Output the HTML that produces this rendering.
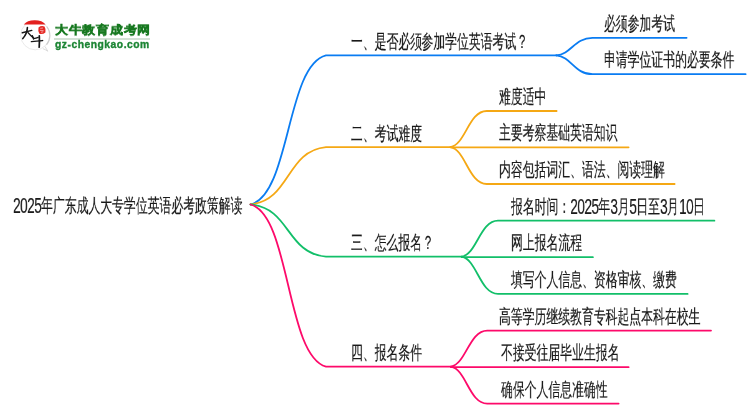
<!DOCTYPE html>
<html><head><meta charset="utf-8"><style>
html,body{margin:0;padding:0;background:#fff;width:750px;height:410px;overflow:hidden;position:relative}
body{font-family:"Liberation Sans",sans-serif}
.t{position:absolute;font-size:19px;line-height:19px;white-space:nowrap;color:#1a1a1a;-webkit-text-stroke:0.2px #1a1a1a;transform:scaleX(0.6235);transform-origin:0 0;will-change:transform}
.d{font-size:22px;letter-spacing:-0.9px;line-height:0;position:relative;top:0.6px}
svg.lines{position:absolute;left:0;top:0}
svg.lines path{fill:none;stroke-width:1.8;stroke-linecap:round}
</style></head><body>
<svg class="lines" width="750" height="410" viewBox="0 0 750 410">
<path d="M250.5 204.5 C290.51 194.51 285.99 65.39 326 55.4 L556.3 55.4" stroke="#0a7cf2"/>
<path d="M556.3 55.4 C571.50 54.08 574.40 37.80 592.5 37.8 L686.6 37.8" stroke="#0a7cf2"/>
<path d="M556.3 55.4 C571.50 56.81 574.40 74.20 592.5 74.2 L745.6 74.2" stroke="#0a7cf2"/>
<path d="M250.5 204.5 C290.51 200.65 285.99 150.95 326 147.1 L450.5 147.1" stroke="#f5a814"/>
<path d="M450.5 147.1 C465.70 144.39 468.60 111.00 486.7 111 L556.6 111" stroke="#f5a814"/>
<path d="M450.5 147.3 L628.6 147.3" stroke="#f5a814"/>
<path d="M450.5 147.1 C465.70 149.87 468.60 184.00 486.7 184 L674.6 184" stroke="#f5a814"/>
<path d="M250.5 204.5 C290.51 208.00 285.99 253.20 326 256.7 L461.8 256.7" stroke="#12bf69"/>
<path d="M461.8 256.7 C477.00 254.00 479.90 220.70 498.0 220.7 L714.4 220.7" stroke="#12bf69"/>
<path d="M461.8 257.2 L592.9 257.2" stroke="#12bf69"/>
<path d="M461.8 256.7 C477.00 259.49 479.90 293.90 498.0 293.9 L687.6 293.9" stroke="#12bf69"/>
<path d="M250.5 204.5 C290.51 215.36 285.99 355.74 326 366.6 L451 366.6" stroke="#fd0a6a"/>
<path d="M451 366.6 C466.20 363.90 469.10 330.60 487.2 330.6 L711 330.6" stroke="#fd0a6a"/>
<path d="M451 367.2 L628.6 367.2" stroke="#fd0a6a"/>
<path d="M451 366.6 C466.20 369.38 469.10 403.60 487.2 403.6 L618.6 403.6" stroke="#fd0a6a"/>
</svg>
<div class="t" style="left:351.4px;top:31.799999999999997px;letter-spacing:-0.1px">一、是否必须参加学位英语考试？</div>
<div class="t" style="left:603.7px;top:13.699999999999996px;">必须参加考试</div>
<div class="t" style="left:603.7px;top:50.1px;">申请学位证书的必要条件</div>
<div class="t" style="left:351.4px;top:123.5px;">二、考试难度</div>
<div class="t" style="left:498.5px;top:86.9px;">难度适中</div>
<div class="t" style="left:498.5px;top:123.20000000000002px;">主要考察基础英语知识</div>
<div class="t" style="left:498.5px;top:159.9px;">内容包括词汇、语法、阅读理解</div>
<div class="t" style="left:351.4px;top:233.1px;">三、怎么报名？</div>
<div class="t" style="left:511.2px;top:196.6px;">报名时间：<span class="d">2025</span>年<span class="d">3</span>月<span class="d">5</span>日至<span class="d">3</span>月<span class="d">10</span>日</div>
<div class="t" style="left:511.2px;top:233.1px;">网上报名流程</div>
<div class="t" style="left:511.2px;top:269.79999999999995px;">填写个人信息、资格审核、缴费</div>
<div class="t" style="left:351.4px;top:343.0px;">四、报名条件</div>
<div class="t" style="left:499.4px;top:306.5px;">高等学历继续教育专科起点本科在校生</div>
<div class="t" style="left:500.5px;top:343.09999999999997px;">不接受往届毕业生报名</div>
<div class="t" style="left:500.7px;top:379.5px;">确保个人信息准确性</div>
<div class="t" style="left:12.9px;top:196px;letter-spacing:-0.04px"><span class="d">2025</span>年广东成人大专学位英语必考政策解读</div>

<svg width="60" height="60" viewBox="0 0 60 60" style="position:absolute;left:0;top:0">
 <circle cx="35.2" cy="35.3" r="14.5" fill="#fff" stroke="#e4e4e4" stroke-width="0.8"/>
 <path d="M46.8 26.5 A14.5 14.5 0 0 1 46.5 44.8" fill="none" stroke="#cdcdcd" stroke-width="1.1"/>
 <path d="M45 46.5 Q46.5 49 47.8 51.2 Q45.5 49.6 42.8 48.6" fill="none" stroke="#d6d6d6" stroke-width="0.9"/>
 <path d="M23.8 24.6 A12 7.4 0 0 1 45.6 24.6 Z" fill="#e3201f"/>
 <path d="M38.5 27.5 Q41 25.3 44.5 26.4 Q46.2 29 45.4 32.4 Q43 34.6 39.4 33.8 Q37.7 30.8 38.5 27.5 Z" fill="#e52a25"/>
 <path d="M40.3 28.4 L43 28 M40 30.4 L43.6 30.6 M41 32.3 L43.2 31.8" stroke="#f9c8c8" stroke-width="0.7" fill="none"/>
 <path d="M22.3 32.8 Q27 31.6 31.8 30.4" stroke="#151515" stroke-width="1.45" fill="none" stroke-linecap="round"/>
 <path d="M27.4 27.5 Q27.2 33.5 22.8 38.6" stroke="#151515" stroke-width="1.6" fill="none" stroke-linecap="round"/>
 <path d="M28 32.6 Q30.5 35.5 33.2 37.6" stroke="#151515" stroke-width="1.45" fill="none" stroke-linecap="round"/>
 <path d="M32.4 35.7 L33.6 39.2 M33.4 38.6 Q36.2 38 38.2 37.3" stroke="#151515" stroke-width="1.3" fill="none" stroke-linecap="round"/>
 <path d="M31.4 41.6 Q36.6 41 42.6 40.6" stroke="#151515" stroke-width="1.45" fill="none" stroke-linecap="round"/>
 <path d="M39.3 35.8 Q39.6 41.5 39.2 47.2" stroke="#151515" stroke-width="1.7" fill="none" stroke-linecap="round"/>
</svg>
<div style="position:absolute;left:54.6px;top:22.6px;font-size:13px;font-weight:bold;color:#16781f;line-height:16px;white-space:nowrap;will-change:transform;-webkit-text-stroke:0.5px #16781f;letter-spacing:0.72px;transform:scaleY(0.9);transform-origin:0 0">大牛教育成考网</div>
<div style="position:absolute;left:54px;top:38.1px;width:96px;height:1.5px;background:#d3e1d5"></div>
<div style="position:absolute;left:55.3px;top:38.9px;font-size:10.3px;font-weight:bold;color:#1c8534;-webkit-text-stroke:0.35px #1c8534;line-height:12px;white-space:nowrap;letter-spacing:0.52px;will-change:transform">gz-chengkao.com</div>

</body></html>
